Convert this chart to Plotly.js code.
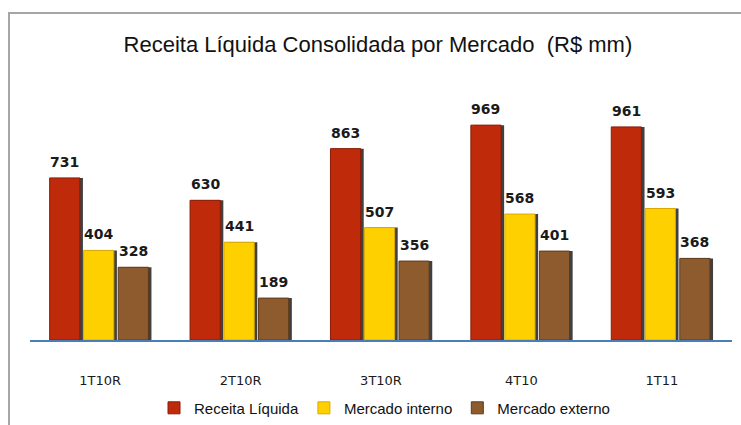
<!DOCTYPE html>
<html><head><meta charset="utf-8">
<script src="https://cdn.plot.ly/plotly-3.0.1.min.js"></script>
<style>html,body{margin:0;padding:0;background:#fff}#chart{width:741px;height:425px}</style>
</head><body><div id="chart"></div>
<script>
const categories = ["1T10R", "2T10R", "3T10R", "4T10", "1T11"];
const receitaLiquida = [731, 630, 863, 969, 961];
const mercadoInterno = [404, 441, 507, 568, 593];
const mercadoExterno = [328, 189, 356, 401, 368];
const seriesNames = ["Receita Líquida", "Mercado interno", "Mercado externo"];

const series = [receitaLiquida, mercadoInterno, mercadoExterno];
const colors = ["#BE2A0A", "#FFD000", "#8E5B2E"];
const edge = ["#8A1C05", "#D9A900", "#5E3A1A"];
const offsets = [-0.36, -0.118, 0.128];
const W = 0.215;
const catPx = 702 / 5;
const labelFont = {family: "DejaVu Sans, Verdana, sans-serif", size: 14, color: "#1a1a1a", weight: "bold"};

const traces = [];
series.forEach((vals, i) => {
  traces.push({
    type: "bar", x: categories, y: vals, offset: offsets[i] + 0.022, width: W,
    marker: {color: "rgba(0,0,0,0.75)"},
    showlegend: false, hoverinfo: "skip"
  });
});
series.forEach((vals, i) => {
  traces.push({
    type: "bar", x: categories, y: vals, name: seriesNames[i],
    offset: offsets[i], width: W,
    marker: {color: colors[i], line: {color: edge[i], width: 1}},
    hoverinfo: "skip"
  });
});

const annotations = [];
series.forEach((vals, i) => {
  vals.forEach((v, j) => {
    annotations.push({
      x: categories[j], y: v, xref: "x", yref: "y", text: String(v), showarrow: false,
      xanchor: "center", yanchor: "bottom",
      xshift: (offsets[i] + W / 2) * catPx, yshift: 6, font: labelFont
    });
  });
});

const layout = {
  width: 741, height: 425,
  margin: {l: 30, r: 9, t: 85, b: 85, autoexpand: false},
  paper_bgcolor: "#ffffff", plot_bgcolor: "#ffffff",
  barmode: "overlay",
  title: {text: "Receita Líquida Consolidada por Mercado  (R$ mm)",
    font: {family: "Liberation Sans Narrow, Arial Narrow, Liberation Sans, sans-serif", size: 22, color: "#111"},
    x: 0.51, xanchor: "center", y: 0.895, yanchor: "middle"},
  xaxis: {type: "category", showline: true, linecolor: "#4A7EBB", linewidth: 2,
    showgrid: false, ticks: "", ticklabelstandoff: 27,
    tickfont: {family: "DejaVu Sans, Verdana, sans-serif", size: 13, color: "#1a1a1a"},
    range: [-0.5, 4.5], fixedrange: true},
  yaxis: {range: [0, 1150], visible: false, showgrid: false, zeroline: false, fixedrange: true},
  legend: {orientation: "h", x: 0.505, xanchor: "center", y: -0.267, yanchor: "middle",
    font: {family: "Liberation Sans Narrow, Arial Narrow, Liberation Sans, sans-serif", size: 15, color: "#111"},
    itemwidth: 30, tracegroupgap: 0},
  annotations: annotations,
  shapes: [{type: "path", xref: "paper", yref: "paper",
    path: "M -0.0299,-0.4 L -0.0299,1.282 L 1.02,1.282",
    line: {color: "#A6A6A6", width: 2}}],
  showlegend: true
};
Plotly.newPlot("chart", traces, layout, {displayModeBar: false, staticPlot: true});
</script></body></html>
